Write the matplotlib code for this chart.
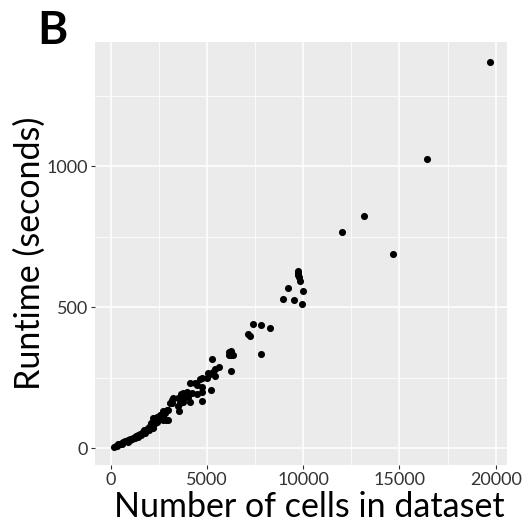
import numpy as np
import matplotlib
matplotlib.use("Agg")
import matplotlib.pyplot as plt
from matplotlib.ticker import MultipleLocator

plt.rcParams['font.family'] = ['Lato', 'DejaVu Sans']

# number of cells vs runtime
cells = [19690, 16447, 13170, 12027, 14680,
         9707, 9722, 9740, 9759, 9826, 9223, 9998, 8927, 9530, 9946,
         7399, 7815, 8283, 7139, 7227, 7815,
         6151, 6223, 6359, 6151, 6250, 6223,
         5251, 5615, 5390, 5286, 5147, 5390, 5060, 4715, 4975, 5199, 4715,
         4627, 4367, 4107, 4454, 4715, 4715, 4489, 4194, 3969, 4021,
         3761, 3639, 3500, 3726, 3761, 4107, 3587, 3241, 3154, 3552,
         2981, 2808, 2721, 2548, 2374, 2201, 3189, 3102, 3500, 3587,
         156, 260, 381, 470, 555, 640, 728, 815, 901, 990, 1075, 1160,
         1248, 1330, 1421, 1500, 1594, 1680, 1768, 1850, 1941, 2030,
         2115, 2200, 2288, 2370, 2461, 2550, 2634, 2720, 2946, 2850,
         2700, 2894, 3067, 600, 1000, 1400, 1800, 2000, 2200, 1700,
         2100, 2400, 2600, 2050, 1550, 1250, 880, 330]
runtime = [1370, 1027, 824, 768, 688,
           629, 621, 614, 609, 594, 567, 558, 529, 526, 513,
           440, 438, 427, 406, 399, 334,
           340, 330, 331, 330, 345, 275,
           317, 287, 281, 272, 263, 256, 266, 249, 248, 206, 167,
           246, 233, 233, 224, 216, 201, 193, 195, 201, 183,
           195, 193, 179, 174, 164, 163, 160, 177, 162, 133,
           136, 124, 132, 118, 112, 106, 171, 162, 151, 180,
           6, 10, 14, 17, 20, 22, 25, 27, 29, 32, 35, 38,
           41, 44, 47, 50, 53, 57, 61, 66, 71, 75,
           79, 84, 89, 95, 100, 106, 112, 118, 100, 101,
           100, 136, 162, 16, 28, 40, 55, 64, 72, 65,
           90, 92, 104, 80, 48, 36, 24, 9]

fig = plt.figure(figsize=(5.27, 5.30), dpi=100)
ax = fig.add_axes([0.180, 0.1226, 0.782, 0.7982])
ax.set_facecolor('#EBEBEB')

ax.xaxis.set_major_locator(MultipleLocator(5000))
ax.xaxis.set_minor_locator(MultipleLocator(2500))
ax.yaxis.set_major_locator(MultipleLocator(500))
ax.yaxis.set_minor_locator(MultipleLocator(250))
ax.grid(which='major', color='white', linewidth=1.1)
ax.grid(which='minor', color='white', linewidth=0.55)
ax.set_axisbelow(True)

ax.scatter(cells, runtime, s=26, color='black', linewidths=0, zorder=3)

ax.set_xlim(-832, 20589)
ax.set_ylim(-59, 1441)

for s in ax.spines.values():
    s.set_visible(False)
ax.tick_params(which='major', length=3, width=0.8, color='#333333',
               labelsize=13, labelcolor='#333333', pad=2)
ax.tick_params(which='minor', length=0)

ax.set_xlabel('Number of cells in dataset', fontsize=24.5)
ax.set_ylabel('Runtime (seconds)', fontsize=24.5)
ax.xaxis.set_label_coords(0.52, -0.062)
ax.yaxis.set_label_coords(-0.158, 0.5)
ax.xaxis.label.set_va('top')
ax.yaxis.label.set_va('center')

fig.text(0.070, 0.982, 'B', fontsize=33, fontweight='bold', va='top', ha='left')

fig.savefig('out.png', dpi=100)
